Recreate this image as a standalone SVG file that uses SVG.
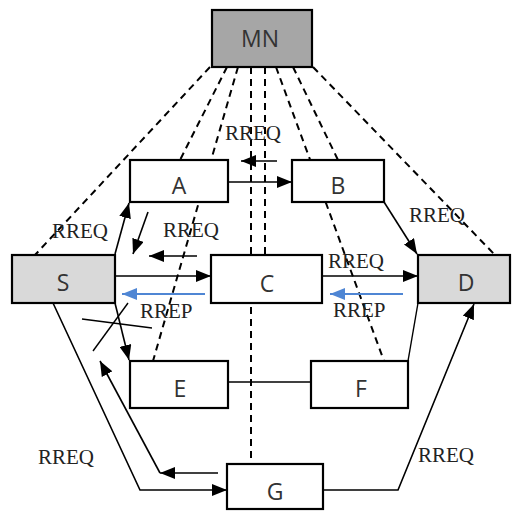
<svg xmlns="http://www.w3.org/2000/svg" width="512" height="511" viewBox="0 0 512 511">
<defs>
<marker id="ah" markerUnits="userSpaceOnUse" markerWidth="16" markerHeight="12" refX="15" refY="6" orient="auto"><path d="M0,0 L15,6 L0,12 z" fill="#000"/></marker>
<marker id="ahb" markerUnits="userSpaceOnUse" markerWidth="16" markerHeight="12" refX="15" refY="6" orient="auto"><path d="M0,0 L15,6 L0,12 z" fill="#4f86d4"/></marker>
</defs>
<style>
.box{stroke:#000;stroke-width:2.2;fill:#fff}
.gray{fill:#d9d9d9}
.dark{fill:#a6a6a6}
.nl{font-family:"Open Sans","Liberation Sans",sans-serif;font-size:23px;fill:#333;text-anchor:middle}
.el{font-family:"Liberation Serif",serif;font-size:21px;fill:#222}
.dash{stroke:#000;stroke-width:2;stroke-dasharray:7 5;fill:none}
.ar{stroke:#000;stroke-width:1.6;fill:none;marker-end:url(#ah)}
.ln{stroke:#000;stroke-width:1.4;fill:none}
.blue{stroke:#4f86d4;stroke-width:2;fill:none;marker-end:url(#ahb)}
</style>
<g id="mn-links">
<line class="dash" x1="210" y1="67" x2="35" y2="255"/>
<line class="dash" x1="227" y1="67" x2="180" y2="160"/>
<line class="dash" x1="238" y1="67" x2="153" y2="361"/>
<line class="dash" x1="251" y1="67" x2="251" y2="464"/>
<line class="dash" x1="265" y1="67" x2="265" y2="255"/>
<line class="dash" x1="276" y1="67" x2="384" y2="361"/>
<line class="dash" x1="293" y1="67" x2="338" y2="160"/>
<line class="dash" x1="313" y1="67" x2="495" y2="255"/>
</g>
<g id="MN"><rect class="box dark" x="212" y="10" width="100" height="57"/><text class="nl" x="260" y="47">MN</text></g>
<g id="A"><rect class="box" x="130" y="160" width="98" height="42"/><text class="nl" x="179" y="194">A</text></g>
<g id="B"><rect class="box" x="292" y="160" width="92" height="42"/><text class="nl" x="338" y="194">B</text></g>
<g id="S"><rect class="box gray" x="12" y="255" width="103" height="48"/><text class="nl" x="63" y="291">S</text></g>
<g id="C"><rect class="box" x="211" y="255" width="111" height="48"/><text class="nl" x="267" y="292">C</text></g>
<g id="D"><rect class="box gray" x="418" y="255" width="92" height="48"/><text class="nl" x="466" y="291">D</text></g>
<g id="E"><rect class="box" x="130" y="361" width="98" height="47"/><text class="nl" x="180" y="397">E</text></g>
<g id="F"><rect class="box" x="311" y="361" width="97" height="47"/><text class="nl" x="361" y="397">F</text></g>
<g id="G"><rect class="box" x="227" y="464" width="96" height="45"/><text class="nl" x="275" y="500">G</text></g>
<g id="connectors">
<line class="ar" x1="228" y1="182" x2="292" y2="182"/>
<line class="ar" x1="277" y1="161" x2="241" y2="161"/>
<line class="ar" x1="384" y1="202" x2="417" y2="254"/>
<line class="ar" x1="115" y1="254" x2="129" y2="203"/>
<line class="ar" x1="148" y1="212" x2="133" y2="254"/>
<line class="ar" x1="197" y1="256" x2="149" y2="256"/>
<line class="ar" x1="115" y1="276" x2="211" y2="276"/>
<line class="blue" x1="205" y1="294" x2="122" y2="294"/>
<line class="ar" x1="322" y1="276" x2="418" y2="276"/>
<line class="blue" x1="403" y1="294" x2="330" y2="294"/>
<line class="ln" x1="82" y1="319" x2="152" y2="328"/>
<line class="ln" x1="128" y1="303" x2="93" y2="351"/>
<line class="ar" x1="115" y1="303" x2="129" y2="360"/>
<polyline class="ar" points="53,303 140,490 227,490"/>
<line class="ar" x1="218" y1="473" x2="160" y2="473"/>
<line class="ar" x1="160" y1="473" x2="100" y2="361"/>
<polyline class="ar" points="323,490 398,490 474,304"/>
<line class="ln" x1="408" y1="361" x2="418" y2="303"/>
<line class="ln" x1="228" y1="382" x2="311" y2="382"/>
</g>
<g id="labels">
<text class="el" x="225" y="140">RREQ</text>
<text class="el" x="52" y="238">RREQ</text>
<text class="el" x="163" y="237">RREQ</text>
<text class="el" x="140" y="318">RREP</text>
<text class="el" x="409" y="222">RREQ</text>
<text class="el" x="328" y="268">RREQ</text>
<text class="el" x="333" y="317">RREP</text>
<text class="el" x="38" y="464">RREQ</text>
<text class="el" x="418" y="462">RREQ</text>
</g>
</svg>
